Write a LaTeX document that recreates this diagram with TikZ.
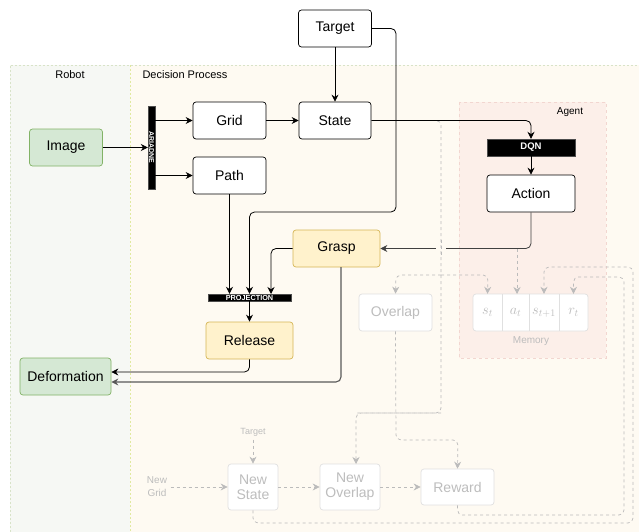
\documentclass[tikz,border=0pt]{standalone}
\usepackage{fontspec}
\setmainfont{Liberation Sans}
\usetikzlibrary{arrows.meta}
\definecolor{gfill}{HTML}{D5E8D4}
\definecolor{gdraw}{HTML}{82B366}
\definecolor{yfill}{HTML}{FFF2CC}
\definecolor{ydraw}{HTML}{D6B656}
\definecolor{ghosttext}{HTML}{BDBDBD}
\definecolor{ghostdraw}{HTML}{E0E0E0}
\definecolor{robotfill}{HTML}{F6F8F4}
\definecolor{decfill}{HTML}{FEFAF2}
\definecolor{lanedraw}{HTML}{D8E3C8}
\definecolor{agentfill}{HTML}{FCEFE9}
\definecolor{agentdraw}{HTML}{F2D6D0}
\definecolor{dashline}{HTML}{BBBBBB}
\tikzset{
  box/.style={draw=black, fill=white, rounded corners=3pt, minimum width=73pt, minimum height=37pt, inner sep=0pt, font=\fontsize{14}{16}\selectfont, line width=0.7pt},
  greenbox/.style={box, fill=gfill, draw=gdraw},
  yellowbox/.style={box, fill=yfill, draw=ydraw},
  ghostbox/.style={box, fill=white, draw=ghostdraw, text=ghosttext, align=center, font=\fontsize{14}{15}\selectfont},
  barbox/.style={fill=black, draw=black!70, inner sep=0pt, text=white},
  lanelabel/.style={font=\fontsize{11}{13}\selectfont},
  arr/.style={draw=black, line width=0.8pt, rounded corners=5pt, -{Stealth[length=7pt,width=7pt]}},
  garr/.style={draw=dashline, line width=0.7pt, dash pattern=on 3pt off 3pt, rounded corners=5pt, -{Stealth[length=7pt,width=7pt]}},
  cell/.style={inner sep=0pt, minimum height=37pt, text=ghosttext, font=\fontsize{14}{16}\selectfont},
}
\begin{document}
\begin{tikzpicture}[x=1pt,y=-1pt]
\useasboundingbox (0,0) rectangle (639,532);
% lanes
\fill[decfill] (130,65) rectangle (645,540);
\fill[robotfill] (10,65) rectangle (130,540);
\draw[lanedraw, line width=0.8pt, dash pattern=on 2pt off 2pt] (10,540) -- (10,65) -- (645,65);
\draw[lanedraw!80!yellow, line width=0.9pt, dash pattern=on 2pt off 2pt] (130,65) -- (130,540);
\node[lanelabel] (robotlbl) at (70,75) {Robot};
\node[lanelabel] (declbl) at (185,75) {Decision Process};
% agent
\draw[fill=agentfill, draw=agentdraw, dash pattern=on 3pt off 3pt] (459,102) rectangle (606,358);
\node[lanelabel, font=\fontsize{10}{12}\selectfont] (agentlbl) at (570,112) {Agent};

% nodes
\node[box] (target) at (335,28.5) {Target};
\node[greenbox] (image) at (66,147.5) {Image};
\node[barbox, minimum width=7pt, minimum height=83pt] (ariadne) at (151.5,147.5) {};
\node[rotate=-90, text=white, inner sep=0pt, font=\fontsize{7}{7}\selectfont\bfseries] (ariadnetxt) at (151.5,147.5) {ARIADNE};
\node[box] (grid) at (229.5,120.5) {Grid};
\node[box] (path) at (229.5,175.5) {Path};
\node[box, minimum width=72pt] (state) at (335,120.5) {State};
\node[barbox, minimum width=88pt, minimum height=17pt, font=\fontsize{9.5}{10}\selectfont\bfseries] (dqn) at (531,147.5) {DQN};
\node[box, minimum width=88pt] (action) at (531,193.5) {Action};
\node[yellowbox, minimum width=87pt] (grasp) at (336.5,248.5) {Grasp};
\node[barbox, minimum width=83pt, minimum height=7pt, font=\fontsize{7.3}{7}\selectfont\bfseries] (proj) at (249.5,297.5) {PROJECTION};
\node[yellowbox, minimum width=87pt] (release) at (249.5,340.5) {Release};
\node[greenbox, minimum width=91pt] (deform) at (65.5,376.5) {Deformation};

% ghost part
\node[ghostbox] (overlap) at (395.5,312.5) {Overlap};
\node[ghostbox, minimum width=115pt] (memory) at (530.5,312.5) {};
\draw[ghostdraw, line width=0.7pt] (502,294) -- (502,331) (529,294) -- (529,331) (559,294) -- (559,331);
\node[cell, minimum width=29pt] (st) at (487.5,312.5) {$s_t$};
\node[cell, minimum width=27pt] (at) at (515.5,312.5) {$a_t$};
\node[cell, minimum width=30pt] (st1) at (544,312.5) {$s_{t+1}$};
\node[cell, minimum width=29pt] (rt) at (573.5,312.5) {$r_t$};
\node[lanelabel, text=ghosttext, font=\fontsize{10}{12}\selectfont] (memlbl) at (531,341) {Memory};
\node[ghostbox, minimum width=50pt, minimum height=46pt] (newstate) at (253,487) {New\\State};
\node[ghostbox, minimum width=60pt, minimum height=46pt] (newoverlap) at (350,487) {New\\Overlap};
\node[ghostbox, minimum height=36pt] (reward) at (457.5,487) {Reward};
\node[text=ghosttext, align=center, font=\fontsize{10}{13}\selectfont] (newgrid) at (157,487) {New\\Grid};
\node[text=ghosttext, font=\fontsize{9}{11}\selectfont] (tgt2) at (253,432) {Target};

% gray dashed connectors
\coordinate (split) at (441,275);
\draw[garr, -] (state.east) -- (441,120.5) -- (441,413) -- (356,413);
\draw[garr] (441,413) -- (356,413) -- (356,464);
\draw[garr] (split) -- (396,275) -- (overlap.north);
\draw[garr] (split) -- (488,275) -- (st.north);
\coordinate (abranch) at (517,248.5);
\draw[garr] (abranch) -- (517,294);
\draw[garr] (overlap.south) -- (396,440) -- (458,440) -- (reward.north);
\draw[garr] (newgrid) -- (newstate);
\draw[garr] (tgt2) -- (newstate);
\draw[garr] (newstate) -- (newoverlap);
\draw[garr] (newoverlap) -- (reward);
\draw[garr] (newstate.south) -- (253,523) -- (633,523) -- (633,267) -- (544,267) -- (st1.north);
\draw[garr] (reward.south) -- (457.5,515) -- (624,515) -- (624,277) -- (573.5,277) -- (rt.north);

% black connectors
\draw[arr] (image) -- (ariadne.west |- image);
\draw[arr] (ariadne.east |- grid) -- (grid);
\draw[arr] (ariadne.east |- path) -- (path);
\draw[arr] (grid) -- (state);
\draw[arr] (target) -- (state);
\draw[arr] (target.east) -- (396,28.5) -- (396,212) -- (249.5,212) -- (proj.north);
\draw[arr] (path.south) -- (path.south |- proj.north);
\draw[arr] (grasp.west) -- (271,248.5) -- (271,294);
\draw[arr] (proj.south) -- (release.north);
\draw[arr] (state.east) -- (531,120.5) -- (dqn.north);
\draw[arr] (dqn) -- (action);
\draw[arr, draw=black!75] (action.south) -- (531,248.5) -- (grasp.east);
% line jump where the dashed line crosses
\draw[decfill, line width=2pt] (436,248.5) -- (446,248.5);
\draw[dashline, line width=0.7pt, dash pattern=on 3pt off 3pt] (441,240) -- (441,257);
\draw[arr] (release.south) -- (249.5,372) -- (deform.east |- 0,372);
\draw[arr, draw=black!65, line width=1.1pt] (341,267) -- (341,382) -- (deform.east |- 0,382);
\end{tikzpicture}
\end{document}
